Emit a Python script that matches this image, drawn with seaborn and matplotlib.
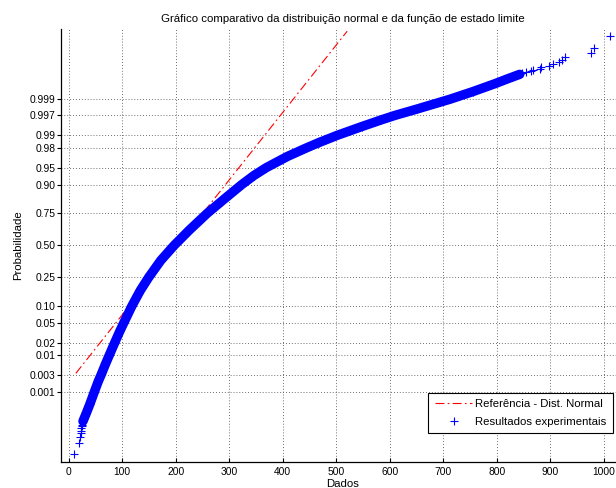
import numpy as np
import pandas as pd
import matplotlib
matplotlib.use("Agg")
import matplotlib.pyplot as plt
from matplotlib.lines import Line2D
import seaborn as sns
from statistics import NormalDist

# ---------------- data ----------------
titulo = "Gráfico comparativo da distribuição normal e da função de estado limite"
rotulo_x = "Dados"
rotulo_y = "Probabilidade"
legenda_textos = ["Referência - Dist. Normal", "Resultados experimentais"]

# lower tail (isolated markers)
dados_inferior = [10.3, 19.1, 20.9, 22.2, 22.8, 23.4, 24.1, 24.7]
prob_inferior = [0.000005, 0.000015, 0.000025, 0.000035, 0.000045,
                 0.000055, 0.000065, 0.000075]

# dense central part of the experimental quantiles
dados_centro = [26.5, 33.0, 39.5, 48.0, 55.0, 60.0, 68.5, 75.5, 86.0, 95.5,
                102.5, 118.0, 133.7, 149.5, 172.0, 197.0, 225.0, 258.5, 288.0,
                323.0, 346.0, 369.5, 409.0, 443.0, 467.0, 502.0, 548.0, 584.0,
                610.0, 650.0, 713.0, 755.0, 798.0, 819.0, 843.0]
prob_centro = [0.0001, 0.0002, 0.0004, 0.001, 0.002, 0.003, 0.006, 0.01, 0.02, 0.035,
               0.05, 0.10, 0.17, 0.25, 0.375, 0.50, 0.625, 0.75, 0.83,
               0.90, 0.93, 0.95, 0.97, 0.98, 0.985, 0.99, 0.994, 0.996,
               0.997, 0.998, 0.999, 0.99942, 0.99969, 0.99978, 0.99985]

# upper tail (isolated markers)
dados_superior = [847.0, 854.0, 864.0, 867.0, 880.0, 883.6, 897.0, 905.3, 916.0,
                  922.1, 928.4, 977.0, 981.9, 1012.5]
prob_superior = [0.999865, 0.999875, 0.999885, 0.999895, 0.999905, 0.999915,
                 0.999925, 0.999935, 0.999945, 0.999955, 0.999965, 0.999975,
                 0.999985, 0.999995]

# reference normal line (two end points)
ref_x = [13.1, 520.4]
ref_p = [0.0034, 0.999997]

# ticks
x_ticks = [0, 100, 200, 300, 400, 500, 600, 700, 800, 900, 1000]
y_ticks = [0.001, 0.003, 0.01, 0.02, 0.05, 0.10, 0.25, 0.50, 0.75, 0.90,
           0.95, 0.98, 0.99, 0.997, 0.999]
y_tick_labels = ["0.001", "0.003", "0.01", "0.02", "0.05", "0.10", "0.25", "0.50",
                 "0.75", "0.90", "0.95", "0.98", "0.99", "0.997", "0.999"]

# ---------------- normal probability scale ----------------
_nd = NormalDist()
_ppf = np.vectorize(lambda p: _nd.inv_cdf(p) if np.isfinite(p) else np.nan, otypes=[float])
_cdf = np.vectorize(lambda z: _nd.cdf(z) if np.isfinite(z) else np.nan, otypes=[float])


def fwd(p):
    p = np.clip(np.asarray(p, dtype=float), 1e-15, 1 - 1e-15)
    return _ppf(p)


def inv(z):
    return _cdf(np.asarray(z, dtype=float))


# ---------------- style ----------------
sns.set_style("white")
plt.rcParams["font.family"] = ["Liberation Sans", "DejaVu Sans"]
plt.rcParams["font.size"] = 8.2
for k in ["text.color", "axes.labelcolor", "xtick.color", "ytick.color"]:
    plt.rcParams[k] = "black"

BLUE = "#0000ff"
RED = "#ff0000"
DASHDOT = (0, (8, 3, 1.5, 3))

fig = plt.figure(figsize=(6.16, 4.88), dpi=100)
W, H = 616.0, 488.0
left_px, right_px, top_px, bottom_px = 61.3, 623.5, 29.0, 461.7
ax = fig.add_axes([left_px / W, (H - bottom_px) / H,
                   (right_px - left_px) / W, (bottom_px - top_px) / H])
ax.set_yscale("function", functions=(fwd, inv))

df_centro = pd.DataFrame({"Dados": dados_centro, "Probabilidade": prob_centro})
df_pontos = pd.DataFrame({
    "Dados": dados_inferior + dados_centro + dados_superior,
    "Probabilidade": prob_inferior + prob_centro + prob_superior,
})
df_ref = pd.DataFrame({"Dados": ref_x, "Probabilidade": ref_p})

# reference line (drawn beneath the data band)
sns.lineplot(data=df_ref, x="Dados", y="Probabilidade", ax=ax, color=RED,
             linewidth=0.8, linestyle=DASHDOT, sort=False, estimator=None,
             legend=False, zorder=2)
# dense band of overlapping markers
sns.lineplot(data=df_centro, x="Dados", y="Probabilidade", ax=ax, color=BLUE,
             linewidth=6.8, sort=False, estimator=None, legend=False,
             solid_capstyle="round", solid_joinstyle="round", zorder=3)
sns.scatterplot(data=df_pontos, x="Dados", y="Probabilidade", ax=ax, marker="+",
                s=34, color=BLUE, linewidth=0.8, legend=False, zorder=4)

ax.set_xlim(-14, 1037)
ax.set_ylim(2.4e-6, 1 - 2.4e-6)
ax.set_xticks(x_ticks)
ax.set_xticklabels([str(v) for v in x_ticks])
ax.set_yticks(y_ticks)
ax.set_yticklabels(y_tick_labels)
ax.minorticks_off()

ax.grid(True, color="0.25", linestyle=(0, (1, 2.5)), linewidth=0.6)
ax.set_axisbelow(True)

for s in ["top", "right"]:
    ax.spines[s].set_visible(False)
for s in ["left", "bottom"]:
    ax.spines[s].set_color("black")
    ax.spines[s].set_linewidth(0.9)

ax.tick_params(axis="y", direction="out", left=True, length=3, width=0.8, pad=1,
               labelsize=7.4)
ax.tick_params(axis="x", direction="in", bottom=True, length=3, width=0.8, pad=4,
               labelsize=7.4)

ax.set_title(titulo, fontsize=8.2, pad=5)
ax.set_xlabel(rotulo_x, fontsize=8.2, labelpad=1.5)
ax.set_ylabel(rotulo_y, fontsize=8.2, labelpad=5)

handles = [
    Line2D([], [], color=RED, linewidth=0.8, linestyle=DASHDOT),
    Line2D([], [], color=BLUE, marker="+", linestyle="none", markersize=6,
           markeredgewidth=0.8),
]
leg = ax.legend(handles, legenda_textos, loc="upper right",
                bbox_to_anchor=((613 - left_px) / (right_px - left_px),
                                (bottom_px - 392.7) / (bottom_px - top_px)),
                borderaxespad=0, frameon=True, fancybox=False, framealpha=1,
                edgecolor="black", facecolor="white", handlelength=3.3,
                handletextpad=0.28, labelspacing=0.7, borderpad=0.55,
                fontsize=8.2)
leg.get_frame().set_linewidth(0.8)

fig.savefig("out.png", dpi=100)
